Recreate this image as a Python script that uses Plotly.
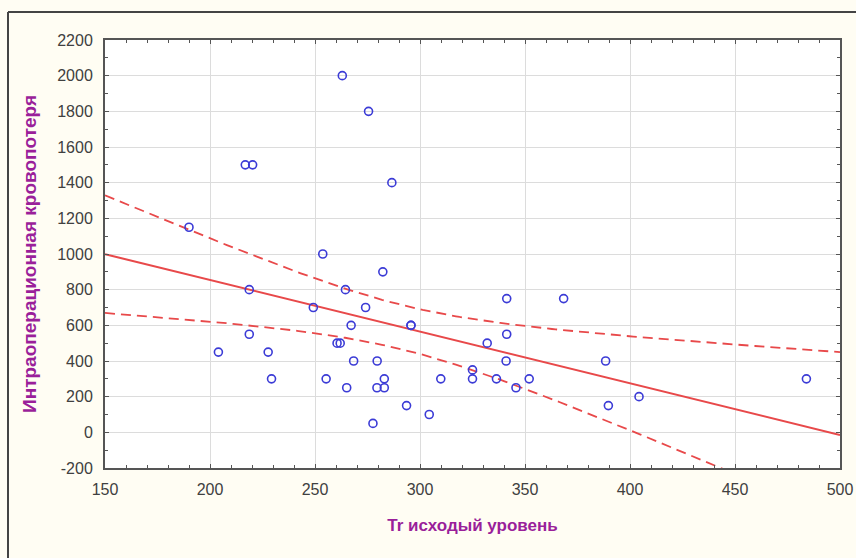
import numpy as np
import plotly.graph_objects as go

# Baseline Tr level vs intraoperative blood loss (one point per patient)
tr_level = [190, 204, 216.8, 220.3, 218.7, 218.7, 227.7, 229.3, 249.2, 253.7,
            255.3, 260.5, 262, 263, 264.5, 265.1, 267.2, 268.4, 274.1, 275.5,
            277.6, 279.6, 279.5, 283, 283, 282.3, 286.6, 293.6, 295.7, 295.7,
            304.4, 309.9, 325, 325, 332, 336.4, 341.3, 341.3, 341, 345.7,
            352, 368.4, 388.4, 389.7, 404.3, 484]
blood_loss = [1150, 450, 1500, 1500, 800, 550, 450, 300, 700, 1000,
              300, 500, 500, 2000, 800, 250, 600, 400, 700, 1800,
              50, 400, 250, 250, 300, 900, 1400, 150, 600, 600,
              100, 300, 350, 300, 500, 300, 750, 550, 400, 250,
              300, 750, 400, 150, 200, 300]

x_ticks = [150, 200, 250, 300, 350, 400, 450, 500]
y_ticks = [-200, 0, 200, 400, 600, 800, 1000, 1200, 1400, 1600, 1800, 2000, 2200]
y_tick_text = [str(v) for v in y_ticks]  # plain hyphen for negatives

x_title = "Tr исходый уровень"
y_title = "Интраоперационная кровопотеря"

# Least-squares fit with 95% confidence band for the mean
x = np.asarray(tr_level, dtype=float)
y = np.asarray(blood_loss, dtype=float)
n = len(x)
slope, intercept = np.polyfit(x, y, 1)
resid = y - (intercept + slope * x)
s = np.sqrt(np.sum(resid ** 2) / (n - 2))
xm = x.mean()
sxx = np.sum((x - xm) ** 2)
t_crit = 2.014  # Student t, 0.975, df = 44

xs = np.linspace(x_ticks[0], x_ticks[-1], 200)
fit = intercept + slope * xs
half = t_crit * s * np.sqrt(1.0 / n + (xs - xm) ** 2 / sxx)

line_color = "#e8494a"
axis_font = dict(family="Liberation Sans, Arial, sans-serif", size=16, color="#404040")
title_font = dict(family="Liberation Sans, Arial, sans-serif", size=17, color="#9a1f9a")

fig = go.Figure()
for band in (fit + half, fit - half):
    fig.add_trace(go.Scatter(x=xs, y=band, mode="lines",
                             line=dict(color=line_color, width=1.8, dash="10px,6px"),
                             hoverinfo="skip"))
fig.add_trace(go.Scatter(x=xs, y=fit, mode="lines",
                         line=dict(color=line_color, width=2), hoverinfo="skip"))
fig.add_trace(go.Scatter(x=tr_level, y=blood_loss, mode="markers",
                         marker=dict(symbol="circle-open", size=8,
                                     color="#3b3bd6", line=dict(width=1.6))))

axis_common = dict(
    showline=True, linecolor="#555555", linewidth=2, mirror="allticks",
    ticks="inside", ticklen=4, tickcolor="#555555", tickwidth=1,
    showgrid=True, gridcolor="#dcdcdc", gridwidth=1,
    zeroline=False, tickfont=axis_font, automargin=False,
)

fig.update_xaxes(range=[150, 500], tickvals=x_ticks, ticklabelstandoff=6, **axis_common,
                 minor=dict(dtick=10, ticks="inside", ticklen=3,
                            tickcolor="#555555", showgrid=False),
                 title=dict(text="<b>" + x_title + "</b>", font=title_font, standoff=22))
fig.update_yaxes(range=[-200, 2200], tickvals=y_ticks, ticktext=y_tick_text,
                 ticklabelstandoff=7, **axis_common,
                 minor=dict(dtick=100, ticks="inside", ticklen=3,
                            tickcolor="#555555", showgrid=False),
                 title=dict(text="<b>" + y_title + "</b>",
                            font=dict(title_font, size=19), standoff=16))

L, R, T, B = 105, 16, 40, 90
pw, ph = 856 - L - R, 558 - T - B
frame_x = (8 - L) / pw
frame_y = 1 + (T - 12) / ph
fig.update_layout(
    width=856, height=558,
    margin=dict(l=L, r=R, t=T, b=B),
    paper_bgcolor="#fffdf3", plot_bgcolor="#ffffff",
    showlegend=False,
    shapes=[
        # outer page frame: top and left edges
        dict(type="line", xref="paper", yref="paper",
             x0=frame_x, x1=1 + R / pw, y0=frame_y, y1=frame_y,
             line=dict(color="#444444", width=2), layer="below"),
        dict(type="line", xref="paper", yref="paper",
             x0=frame_x, x1=frame_x, y0=-B / ph, y1=frame_y,
             line=dict(color="#444444", width=2), layer="below"),
    ],
)

fig.write_html("out.html")
